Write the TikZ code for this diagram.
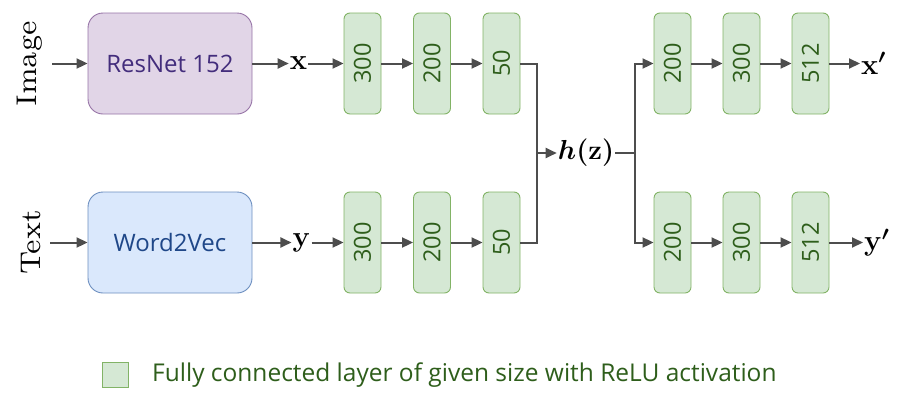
\RequirePackage{fix-cm}
\documentclass[tikz,border=0pt]{standalone}
\usepackage{amsmath}
\usepackage[no-math]{fontspec}
\setmainfont{Open Sans}
\newfontfamily\lmserif{lmroman7-regular.otf}
\usetikzlibrary{arrows.meta}
\definecolor{lc}{HTML}{4D4D4D}
\definecolor{gfill}{HTML}{D5E8D4}
\definecolor{gdraw}{HTML}{82B366}
\definecolor{gtext}{HTML}{2E5E1B}
\definecolor{pfill}{HTML}{E1D5E7}
\definecolor{pdraw}{HTML}{9673A6}
\definecolor{ptext}{HTML}{432D7C}
\definecolor{bfill}{HTML}{DAE8FC}
\definecolor{bdraw}{HTML}{6C8EBF}
\definecolor{btext}{HTML}{1F4788}
\tikzset{
  fc/.style={draw=gdraw, fill=gfill, line width=0.9pt, rounded corners=6pt,
    minimum width=37pt, minimum height=101pt, inner sep=0pt, text=gtext,
    font=\fontsize{23.5}{26}\selectfont},
  bigbox/.style={line width=0.9pt, rounded corners=15pt,
    minimum width=164pt, minimum height=101pt, inner sep=0pt,
    font=\fontsize{24}{26}\selectfont},
  arr/.style={draw=lc, line width=2pt, -{Triangle[length=11pt,width=10pt]}},
  ln/.style={draw=lc, line width=2pt},
  mathlbl/.style={inner sep=1pt, font=\fontsize{29}{32}\selectfont},
  hzlbl/.style={inner sep=1pt, font=\fontsize{27.5}{30}\selectfont},
  side/.style={rotate=90, inner sep=0pt, font=\lmserif\fontsize{28.5}{32}\selectfont},
}
\begin{document}
\begin{tikzpicture}[x=1pt,y=-1pt]
\useasboundingbox (0,0) rectangle (904,405);
% inputs
\node[side] (img) at (30,64) {Image};
\node[side] (txt) at (31,242.5) {Text};
\coordinate (imgin) at (52,63.5);
\coordinate (txtin) at (50,242.5);
\node[bigbox, draw=pdraw, fill=pfill, text=ptext] (res) at (170,63.5) {ResNet 152};
\node[bigbox, draw=bdraw, fill=bfill, text=btext] (w2v) at (170,242.5) {Word2Vec};
\draw[arr] (imgin) -- (res.west);
\draw[arr] (txtin) -- (w2v.west);
% math labels
\node[mathlbl] (xl) at (298.5,63.5) {$\mathbf{x}$};
\node[mathlbl] (yl) at (301.5,242.5) {$\mathbf{y}$};
% encoder layers
\node[fc] (t1) at (362.5,63.5) {\rotatebox{90}{300}};
\node[fc] (t2) at (432,63.5) {\rotatebox{90}{200}};
\node[fc] (t3) at (501.5,63.5) {\rotatebox{90}{50}};
\node[fc] (b1) at (362.5,242.5) {\rotatebox{90}{300}};
\node[fc] (b2) at (432,242.5) {\rotatebox{90}{200}};
\node[fc] (b3) at (501.5,242.5) {\rotatebox{90}{50}};
\draw[arr] (res.east) -- (xl.west);
\draw[arr] (xl.east) -- (t1.west);
\draw[arr] (t1) -- (t2);
\draw[arr] (t2) -- (t3);
\draw[arr] (w2v.east) -- (yl.west);
\draw[arr] (yl.east) -- (b1.west);
\draw[arr] (b1) -- (b2);
\draw[arr] (b2) -- (b3);
% latent
\node[hzlbl] (hz) at (586,153) {$\boldsymbol{h(\mathbf{z})}$};
\coordinate (jl) at (537,153);
\coordinate (jr) at (635,153);
\draw[ln] (b3.east) -| (jl);
\draw[arr] (t3.east) -| (jl) -- (hz.west);
\draw[ln] (hz.east) -- (jr);
% decoders
\node[fc] (r1) at (672.5,63.5) {\rotatebox{90}{200}};
\node[fc] (r2) at (741.5,63.5) {\rotatebox{90}{300}};
\node[fc] (r3) at (810.5,63.5) {\rotatebox{90}{512}};
\node[fc] (s1) at (672.5,242.5) {\rotatebox{90}{200}};
\node[fc] (s2) at (741.5,242.5) {\rotatebox{90}{300}};
\node[fc] (s3) at (810.5,242.5) {\rotatebox{90}{512}};
\draw[arr] (jr) |- (r1.west);
\draw[arr] (jr) |- (s1.west);
\draw[arr] (r1) -- (r2);
\draw[arr] (r2) -- (r3);
\draw[arr] (s1) -- (s2);
\draw[arr] (s2) -- (s3);
\node[mathlbl, anchor=west] (xp) at (860,63.5) {$\boldsymbol{\mathbf{x}'}$};
\node[mathlbl, anchor=west] (yp) at (863,242.5) {$\boldsymbol{\mathbf{y}'}$};
\draw[arr] (r3.east) -- (xp.west);
\draw[arr] (s3.east) -- (yp.west);
% legend
\node[draw=gdraw, fill=gfill, line width=0.9pt, minimum width=26pt, minimum height=25pt, inner sep=0pt] (leg) at (115,374.5) {};
\node[anchor=west, inner sep=0pt, text=gtext, font=\fontsize{24.5}{27}\selectfont] (legt) at (152,375) {Fully connected layer of given size with ReLU activation};
\end{tikzpicture}
\end{document}
